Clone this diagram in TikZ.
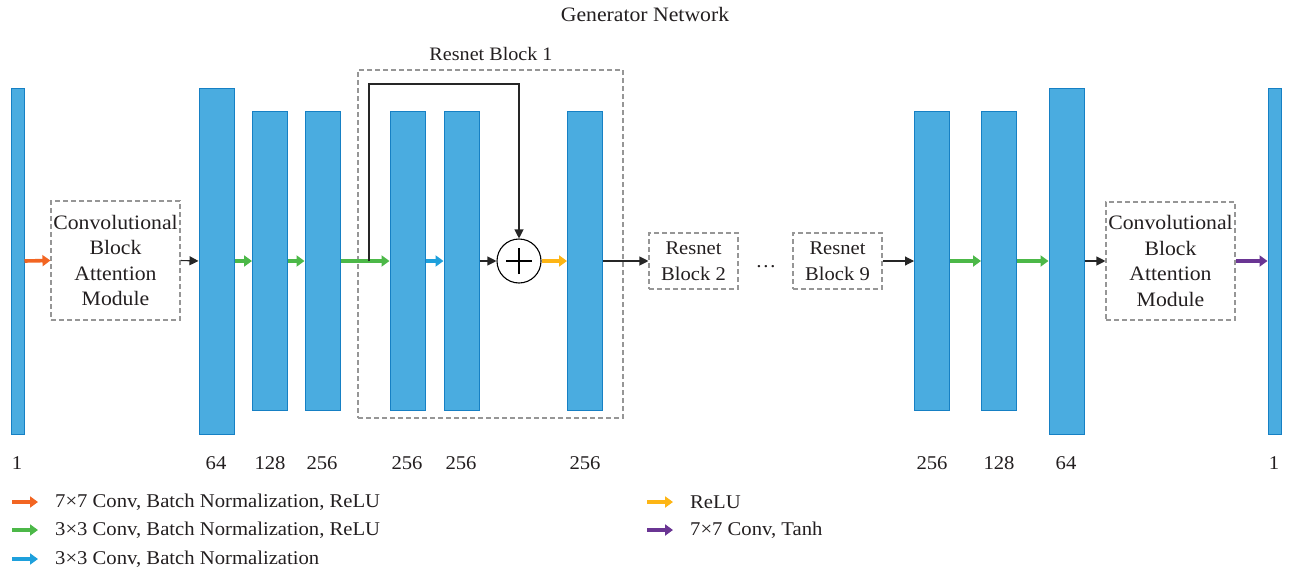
\documentclass[tikz,border=0pt]{standalone}
\usepackage{fontspec}
\setmainfont[FakeStretch=1.06]{Liberation Serif}
\usetikzlibrary{arrows.meta}
\definecolor{barfill}{RGB}{74,172,224}
\definecolor{baredge}{RGB}{22,128,196}
\definecolor{corange}{RGB}{242,101,34}
\definecolor{cgreen}{RGB}{76,184,72}
\definecolor{cblue}{RGB}{30,160,220}
\definecolor{cyellow}{RGB}{253,181,21}
\definecolor{cpurple}{RGB}{106,53,147}
\definecolor{dashgray}{RGB}{150,150,150}
\definecolor{txt}{RGB}{35,31,32}
\tikzset{
  bar/.style={draw=baredge, fill=barfill, line width=1pt, inner sep=0pt, minimum width=35},
  tallbar/.style={bar, minimum height=346},
  shortbar/.style={bar, minimum height=299},
  thinbar/.style={bar, minimum width=13, minimum height=346},
  dbox/.style={draw=dashgray, dashed, dash pattern=on 5pt off 3pt, line width=1.1pt, inner sep=0pt},
  lbl/.style={text=txt, font=\fontsize{19.5}{23}\selectfont, inner sep=0pt},
  boxtxt/.style={text=txt, font=\fontsize{20.5}{25.5}\selectfont, align=center, inner sep=0pt},
  fat/.style={line width=3.6pt, -{Triangle[length=8pt, width=11pt]}},
  blk/.style={draw=black!85, line width=1.1pt, -{Triangle[length=9pt, width=9pt]}},
}
\begin{document}
\begin{tikzpicture}[x=1pt, y=-1pt]
\useasboundingbox (0,0) rectangle (1290,573);

% title
\node[lbl, font=\fontsize{20.5}{24}\selectfont, anchor=base] (title) at (645,21) {Generator Network};

% feature maps
\node[thinbar]  (in)  at (17.5,261) {};
\node[tallbar]  (e1)  at (216.5,261) {};
\node[shortbar] (e2)  at (270,261) {};
\node[shortbar] (e3)  at (322.5,261) {};
\node[shortbar] (r1)  at (407.5,261) {};
\node[shortbar] (r2)  at (461.5,261) {};
\node[shortbar] (r3)  at (585,261) {};
\node[shortbar] (d1)  at (932,261) {};
\node[shortbar] (d2)  at (999,261) {};
\node[tallbar]  (d3)  at (1066.5,261) {};
\node[thinbar]  (out) at (1274.5,261) {};

% attention modules
\node[dbox, minimum width=129, minimum height=119] (cb1) at (115.5,260.5) {};
\node[boxtxt] at (cb1) {Convolutional\\Block\\Attention\\Module};
\node[dbox, minimum width=129, minimum height=118] (cb2) at (1170.5,261) {};
\node[boxtxt] at (cb2) {Convolutional\\Block\\Attention\\Module};

% residual block frame
\node[dbox, minimum width=265, minimum height=348] (rb1) at (490.5,244) {};
\node[lbl, font=\fontsize{19}{23}\selectfont, anchor=base] (rb1lbl) at (491,60) {Resnet Block 1};

% further residual blocks
\node[dbox, minimum width=89, minimum height=56] (rb2) at (693.5,261) {};
\node[boxtxt, font=\fontsize{19.4}{25.5}\selectfont] at (rb2) {Resnet\\Block 2};
\node[dbox, minimum width=89, minimum height=56] (rb9) at (837.5,261) {};
\node[boxtxt, font=\fontsize{19.4}{25.5}\selectfont] at (rb9) {Resnet\\Block 9};
\node[lbl, anchor=base] (dots) at (766,267) {\dots};

% summation
\node[circle, draw=black, line width=1.1pt, minimum size=44, inner sep=0pt] (plus) at (519,261) {};
\draw[line width=1.1pt] ([xshift=-13pt]plus.center) -- ([xshift=13pt]plus.center)
  ([yshift=-13pt]plus.center) -- ([yshift=13pt]plus.center);

% connectors
\draw[fat, corange] (in.east) -- (cb1.west);
\draw[blk] (cb1.east) -- (e1.west);
\draw[fat, cgreen] (e1.east) -- (e2.west);
\draw[fat, cgreen] (e2.east) -- (e3.west);
\draw[fat, cgreen] (e3.east) -- (r1.west);
\coordinate (skip) at (369,261);
\draw[blk] (skip) |- (519,84) -- (plus.north);
\draw[fat, cblue] (r1.east) -- (r2.west);
\draw[blk] (r2.east) -- (plus.west);
\draw[fat, cyellow] (plus.east) -- (r3.west);
\draw[blk] (r3.east) -- (rb2.west);
\draw[blk] (rb9.east) -- (d1.west);
\draw[fat, cgreen] (d1.east) -- (d2.west);
\draw[fat, cgreen] (d2.east) -- (d3.west);
\draw[blk] (d3.east) -- (cb2.west);
\draw[fat, cpurple] (cb2.east) -- (out.west);

% channel counts
\foreach \x/\t/\n in {17/1/c0, 216/64/c1, 270/128/c2, 322/256/c3, 407/256/c4, 461/256/c5, 585/256/c6, 932/256/c7, 999/128/c8, 1066/64/c9, 1274/1/c10}
  \node[lbl, anchor=base] (\n) at (\x,469) {\t};

% legend
\foreach \y/\c/\t/\n in {502/corange/{7×7 Conv, Batch Normalization, ReLU}/la,
                         530/cgreen/{3×3 Conv, Batch Normalization, ReLU}/lb,
                         559/cblue/{3×3 Conv, Batch Normalization}/lc}{
  \coordinate (\n s) at (12,\y);
  \coordinate (\n e) at (38,\y);
  \draw[fat, \c] (\n s) -- (\n e);
  \node[lbl, anchor=west] (\n t) at (55,\y) {\t};
}
\foreach \y/\c/\t/\n in {502/cyellow/{ReLU}/ld,
                         530/cpurple/{7×7 Conv, Tanh}/le}{
  \coordinate (\n s) at (647,\y);
  \coordinate (\n e) at (673,\y);
  \draw[fat, \c] (\n s) -- (\n e);
  \node[lbl, anchor=west] (\n t) at (690,\y) {\t};
}
\end{tikzpicture}
\end{document}
